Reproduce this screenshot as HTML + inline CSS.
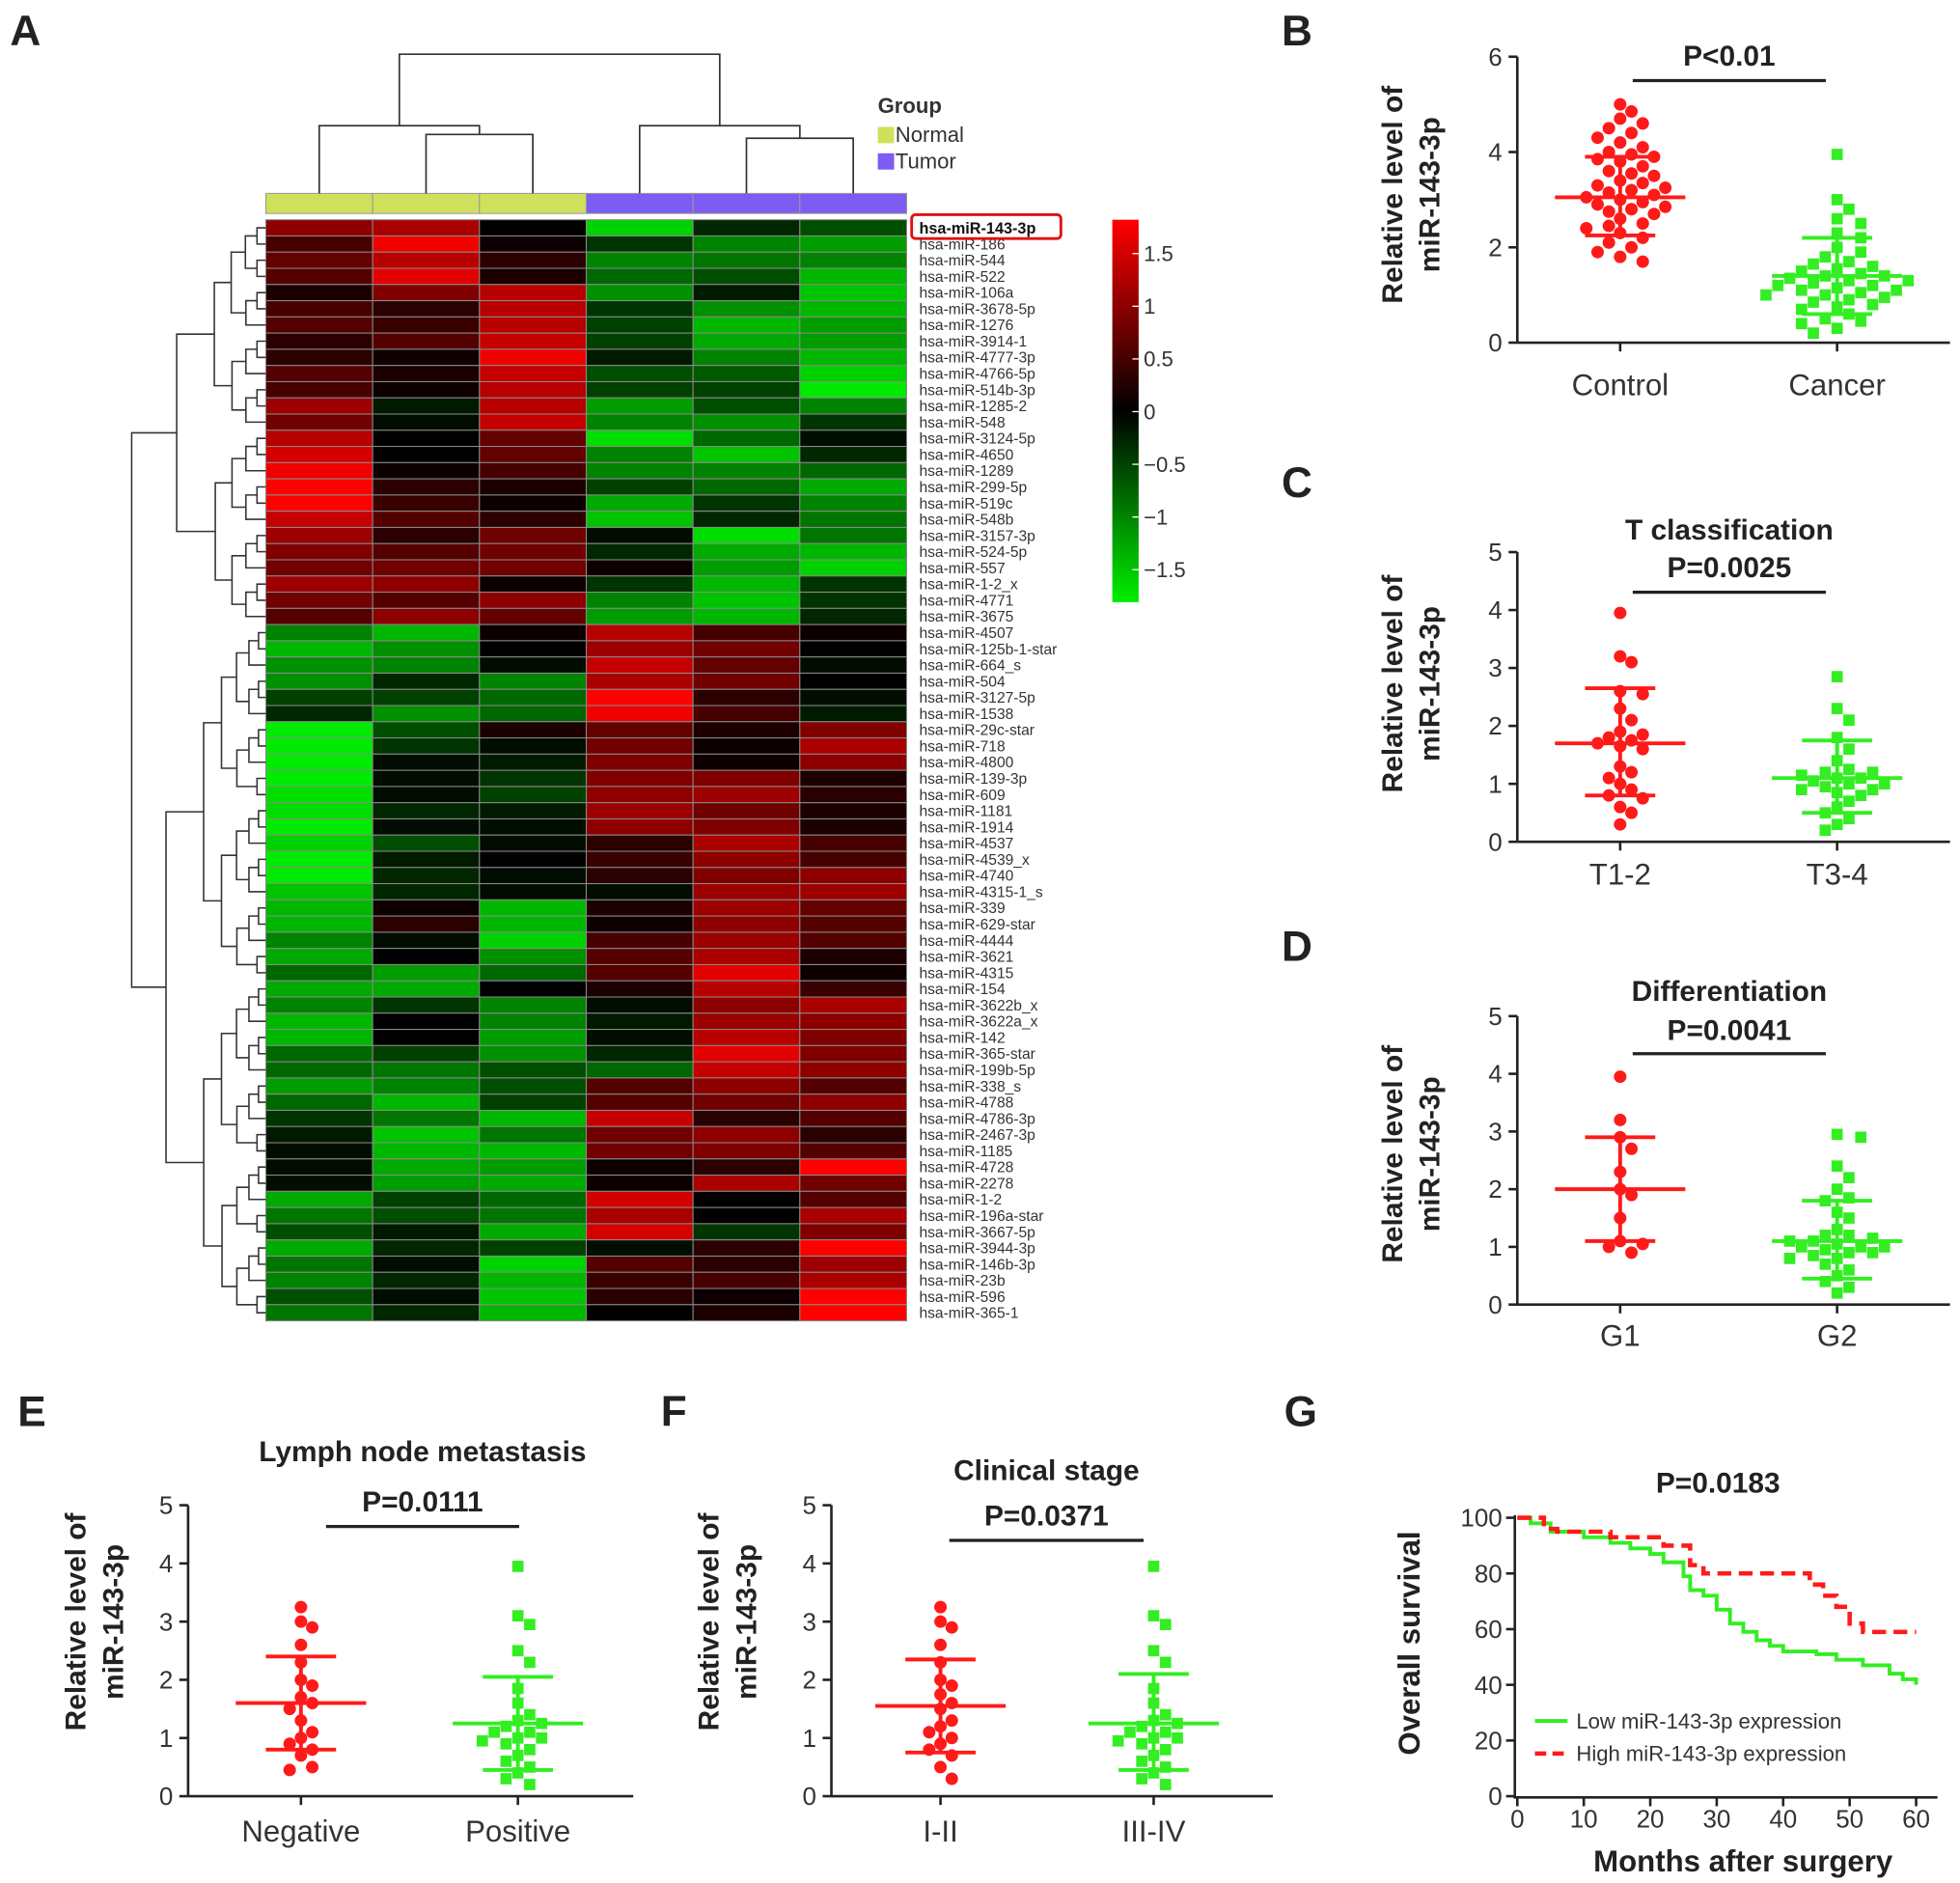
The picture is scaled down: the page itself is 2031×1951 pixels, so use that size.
<!DOCTYPE html>
<html><head><meta charset="utf-8"><style>
html,body{margin:0;padding:0;background:#fff;}
svg{display:block;font-family:"Liberation Sans",Arial,sans-serif;}
</style></head><body>
<svg id="fig" width="2031" height="1951" viewBox="0 0 1563 1501" xmlns="http://www.w3.org/2000/svg"></svg>
<script>
// ---------------- DATA ----------------
const heatRows = ["hsa-miR-143-3p","hsa-miR-186","hsa-miR-544","hsa-miR-522","hsa-miR-106a","hsa-miR-3678-5p","hsa-miR-1276","hsa-miR-3914-1","hsa-miR-4777-3p","hsa-miR-4766-5p","hsa-miR-514b-3p","hsa-miR-1285-2","hsa-miR-548","hsa-miR-3124-5p","hsa-miR-4650","hsa-miR-1289","hsa-miR-299-5p","hsa-miR-519c","hsa-miR-548b","hsa-miR-3157-3p","hsa-miR-524-5p","hsa-miR-557","hsa-miR-1-2_x","hsa-miR-4771","hsa-miR-3675","hsa-miR-4507","hsa-miR-125b-1-star","hsa-miR-664_s","hsa-miR-504","hsa-miR-3127-5p","hsa-miR-1538","hsa-miR-29c-star","hsa-miR-718","hsa-miR-4800","hsa-miR-139-3p","hsa-miR-609","hsa-miR-1181","hsa-miR-1914","hsa-miR-4537","hsa-miR-4539_x","hsa-miR-4740","hsa-miR-4315-1_s","hsa-miR-339","hsa-miR-629-star","hsa-miR-4444","hsa-miR-3621","hsa-miR-4315","hsa-miR-154","hsa-miR-3622b_x","hsa-miR-3622a_x","hsa-miR-142","hsa-miR-365-star","hsa-miR-199b-5p","hsa-miR-338_s","hsa-miR-4788","hsa-miR-4786-3p","hsa-miR-2467-3p","hsa-miR-1185","hsa-miR-4728","hsa-miR-2278","hsa-miR-1-2","hsa-miR-196a-star","hsa-miR-3667-5p","hsa-miR-3944-3p","hsa-miR-146b-3p","hsa-miR-23b","hsa-miR-596","hsa-miR-365-1"];
const heatGroups = ["Normal","Normal","Normal","Tumor","Tumor","Tumor"];
const heatValues = [
[1.0,1.2,0,-1.6,-0.3,-0.6],[0.5,1.7,0.1,-0.4,-1.0,-1.2],[0.7,1.3,0.3,-1.0,-0.9,-1.0],[0.6,1.6,0.2,-0.8,-0.6,-1.4],
[0.2,0.9,1.3,-1.1,-0.2,-1.5],[0.5,0.3,1.3,-0.4,-1.1,-1.4],[0.6,0.4,1.3,-0.5,-1.4,-1.2],[0.3,0.6,1.4,-0.5,-1.3,-1.2],
[0.3,0.1,1.7,-0.2,-1.0,-1.4],[0.6,0.2,1.4,-0.6,-0.7,-1.6],[0.5,0.1,1.3,-0.5,-0.5,-1.8],[1.1,-0.2,1.3,-1.2,-0.6,-1.0],
[0.8,-0.1,1.4,-1.0,-1.1,-0.4],[1.3,0.0,0.7,-1.7,-0.8,-0.1],[1.5,0.0,0.7,-1.0,-1.5,-0.3],[1.7,0.1,0.5,-1.0,-1.0,-0.8],
[1.8,0.3,0.2,-0.5,-0.8,-1.3],[1.8,0.4,0.1,-1.3,-0.4,-1.0],[1.4,0.6,0.3,-1.5,-0.3,-0.9],[1.1,0.3,0.8,-0.1,-1.7,-0.9],
[0.9,0.6,0.8,-0.3,-1.3,-1.4],[0.8,0.8,0.8,0.1,-1.2,-1.6],[1.1,1.0,0.1,-0.4,-1.4,-0.4],[0.8,0.6,1.0,-1.0,-1.5,-0.4],
[0.6,1.0,0.7,-1.2,-1.4,-0.3],[-1.0,-1.4,0.1,1.3,0.5,0.1],[-1.4,-1.1,0.0,1.1,0.8,0.0],[-1.1,-1.0,-0.1,1.4,0.7,-0.1],
[-1.1,-0.3,-1.0,1.2,0.8,0.0],[-0.5,-0.5,-0.8,1.8,0.3,-0.1],[-0.3,-1.1,-0.8,1.7,0.5,-0.2],[-1.8,-0.6,0.2,0.7,0.2,0.9],
[-1.8,-0.4,-0.1,0.8,0.1,1.2],[-1.9,-0.1,-0.2,0.9,0.1,1.0],[-1.8,-0.1,-0.4,0.9,0.9,0.2],[-1.7,-0.1,-0.5,1.0,1.1,0.3],
[-1.7,-0.3,-0.2,1.1,0.8,0.2],[-1.9,-0.1,-0.1,1.0,0.9,0.2],[-1.6,-0.6,-0.1,0.3,1.2,0.5],[-1.9,-0.2,0.0,0.4,1.0,0.5],
[-1.9,-0.3,-0.1,0.3,0.9,1.0],[-1.5,-0.3,-0.1,-0.1,1.1,1.1],[-1.4,0.1,-1.4,0.2,1.1,0.7],[-1.4,0.3,-1.4,0.1,1.0,0.6],
[-1.0,-0.1,-1.6,0.5,1.1,0.6],[-1.3,0.0,-1.1,0.6,1.2,0.2],[-0.8,-1.2,-0.8,0.6,1.6,0.1],[-1.3,-1.3,0.0,0.2,1.3,0.4],
[-1.0,-0.4,-1.0,-0.1,1.0,1.2],[-1.4,0.0,-1.0,-0.2,1.1,1.0],[-1.4,0.0,-1.2,-0.1,1.3,0.9],[-0.8,-0.5,-1.1,-0.3,1.6,0.9],
[-0.8,-0.9,-0.6,-0.8,1.4,1.0],[-1.2,-1.0,-0.6,0.6,1.0,0.6],[-0.8,-1.4,-0.5,0.6,0.8,1.0],[-0.4,-0.9,-1.4,1.4,0.3,0.6],
[-0.2,-1.5,-0.9,0.8,1.0,0.3],[-0.1,-1.4,-1.4,0.8,0.9,0.6],[-0.1,-1.3,-1.2,0.1,0.3,1.8],[-0.1,-1.2,-1.3,0.1,1.2,0.8],
[-1.3,-0.5,-0.8,1.5,0.0,0.6],[-0.9,-0.6,-0.9,1.2,0.0,1.2],[-0.6,-0.2,-1.3,1.5,-0.4,0.9],[-1.3,-0.3,-0.5,-0.1,0.3,1.8],
[-0.9,-0.1,-1.6,0.6,0.3,1.1],[-1.0,-0.3,-1.4,0.4,0.5,1.2],[-0.6,-0.1,-1.5,0.3,0.1,1.8],[-0.9,-0.3,-1.4,0.0,0.2,1.8]];
const colorbarTicks = [1.5,1,0.5,0,-0.5,-1,-1.5];

const bCats = ["Control","Cancer"];
const bControl = [5.0,4.85,4.7,4.6,4.5,4.4,4.3,4.2,4.1,4.0,3.95,3.9,3.85,3.8,3.7,3.6,3.55,3.5,3.4,3.35,3.3,3.25,3.2,3.15,3.1,3.05,3.0,2.95,2.9,2.85,2.8,2.75,2.7,2.6,2.5,2.45,2.4,2.3,2.2,2.1,2.0,1.9,1.8,1.7];
const bCancer = [3.95,3.0,2.8,2.6,2.5,2.3,2.2,2.0,1.9,1.8,1.7,1.65,1.6,1.55,1.5,1.45,1.4,1.35,1.3,1.25,1.2,1.15,1.1,1.05,1.0,0.95,0.9,0.85,0.8,0.75,0.7,0.6,0.5,0.45,0.4,0.3,0.2,1.4,1.3,1.2,1.1,1.0];
const bStats = [[3.05,2.25,3.9],[1.4,0.6,2.2]];
const bTicks = [0,2,4,6];

const cCats = ["T1-2","T3-4"];
const cLow = [3.95,3.2,3.1,2.6,2.55,2.3,2.1,1.9,1.85,1.8,1.75,1.7,1.65,1.6,1.3,1.2,1.1,1.0,0.9,0.8,0.75,0.6,0.5,0.3];
const cHigh = [2.85,2.3,2.1,1.8,1.6,1.4,1.25,1.2,1.1,1.1,1.05,1.0,0.95,0.9,0.85,0.8,0.7,0.6,0.5,0.4,0.3,0.2,1.15,1.0,0.9,1.2];
const cStats = [[1.7,0.8,2.65],[1.1,0.5,1.75]];

const dCats = ["G1","G2"];
const dG1 = [3.95,3.2,2.9,2.7,2.3,2.0,1.9,1.5,1.1,1.05,1.0,0.9];
const dG2 = [2.95,2.9,2.4,2.2,2.0,1.85,1.8,1.6,1.5,1.3,1.2,1.15,1.1,1.05,1.0,1.0,0.95,0.9,0.85,0.8,0.7,0.6,0.5,0.4,0.3,0.2,1.1,1.0,0.9,0.8,1.2];
const dStats = [[2.0,1.1,2.9],[1.1,0.45,1.8]];

const eCats = ["Negative","Positive"];
const eNeg = [3.25,3.0,2.9,2.6,2.3,2.0,1.9,1.7,1.6,1.5,1.3,1.1,1.0,0.9,0.8,0.7,0.5,0.45];
const ePos = [3.95,3.1,2.95,2.5,2.3,1.85,1.6,1.4,1.3,1.25,1.2,1.1,1.0,0.95,0.9,0.8,0.7,0.6,0.5,0.4,0.3,0.2,1.1,1.0];
const eStats = [[1.6,0.8,2.4],[1.25,0.45,2.05]];

const fCats = ["I-II","III-IV"];
const fEarly = [3.25,3.0,2.9,2.6,2.3,2.0,1.9,1.75,1.6,1.5,1.3,1.2,1.1,1.0,0.9,0.8,0.7,0.5,0.3];
const fLate = [3.95,3.1,2.95,2.5,2.3,1.85,1.6,1.4,1.3,1.25,1.2,1.1,1.0,0.95,0.9,0.8,0.7,0.6,0.5,0.4,0.3,0.2,1.1,1.0];
const fStats = [[1.55,0.75,2.35],[1.25,0.45,2.1]];
const fiveTicks = [0,1,2,3,4,5];

const gLowT = [0,2,5,10,14,17,20,22,25,26,28,30,32,34,36,38,40,45,48,52,56,58,60];
const gLowS = [100,98,95,93,91,89,87,84,79,74,72,67,62,59,56,54,52,51,49,47,44,42,40];
const gHighT = [0,4,6,14,18,22,26,28,42,44,46,48,50,52,60];
const gHighS = [100,96,95,93,93,90,83,80,80,76,72,68,62,59,59];
const gXTicks = [0,10,20,30,40,50,60];
const gYTicks = [0,20,40,60,80,100];

// ---------------- HELPERS ----------------
const NS = "http://www.w3.org/2000/svg";
const svg = document.getElementById('fig');
function mk(tag, attrs, parent) {
  const e = document.createElementNS(NS, tag);
  for (const k in attrs) e.setAttribute(k, attrs[k]);
  (parent || svg).appendChild(e);
  return e;
}
function txt(s, attrs, parent) { const e = mk('text', attrs, parent); e.textContent = s; return e; }

// panel letters
[["A",8,36],["B",1022,36],["C",1022,396],["D",1022,766],["E",14,1137],["F",527,1137],["G",1024,1137]].forEach(p => {
  const t = txt(p[0], {x:p[1], y:p[2], 'font-size':34, 'font-weight':'bold', fill:'#222'});
  
  
});

// ---------------- HEATMAP ----------------
const hx0 = 212, hx1 = 723, hy0 = 175, hy1 = 1053;
const cw = (hx1 - hx0) / 6, rh = (hy1 - hy0) / heatRows.length;
function heatColor(v) {
  const a = Math.min(1, Math.abs(v) / 1.8);
  return v >= 0 ? `rgb(${Math.round(a*255)},0,0)` : `rgb(0,${Math.round(a*235)},0)`;
}
const hg = mk('g', {});


heatValues.forEach((row, i) => {
  row.forEach((v, j) => {
    const r = mk('rect', {x:hx0 + j*cw, y:hy0 + i*rh, width:cw, height:rh, fill:heatColor(v), stroke:'#8a8a8a', 'stroke-width':0.8}, hg);
    
    
  });
  const l = txt(heatRows[i], {x:733, y:hy0 + i*rh + rh/2 + 4.2, 'font-size':12, fill:'#333'});
  
  
});
const hl = mk('rect', {x:727, y:171, width:119, height:19, rx:3, fill:'#fff', stroke:'#e01010', 'stroke-width':2.2});


const hlt = txt(heatRows[0], {x:733, y:186, 'font-size':12.5, 'font-weight':'bold', fill:'#111'});



// group bar
heatGroups.forEach((g, j) => {
  const r = mk('rect', {x:hx0 + j*cw, y:154, width:cw, height:16, fill: g === 'Normal' ? '#cfe05c' : '#7c5cf2', stroke:'#999', 'stroke-width':0.8});
  
  
});
const gt = txt('Group', {x:700, y:90, 'font-size':17, 'font-weight':'bold', fill:'#333'});


[["Normal",'#cfe05c',101],["Tumor",'#7c5cf2',122]].forEach(g => {
  const s = mk('rect', {x:700, y:g[2], width:13, height:13, fill:g[1]});
  
  
  const t = txt(g[0], {x:714, y:g[2] + 12, 'font-size':17, fill:'#333'});
  
  
});

// column dendrogram
const cc = j => hx0 + cw*(j + 0.5);
function cpath(d) { const p = mk('path', {d:d, fill:'none', stroke:'#333', 'stroke-width':1.3});   }
const n12 = (cc(1)+cc(2))/2, nL = (cc(0)+n12)/2, n45 = (cc(4)+cc(5))/2, nR = (cc(3)+n45)/2;
cpath(`M${cc(1)},154V107H${cc(2)}V154 M${cc(0)},154V100H${n12}V107 M${cc(4)},154V110H${cc(5)}V154 M${cc(3)},154V100H${n45}V110 M${nL},100V43H${nR}V100`);

// row dendrogram (recursive)
function rowTree(a, b, depth) {
  if (a === b) return {y: hy0 + rh*(a+0.5), x: hx0};
  let m;
  if (depth === 0) m = 24; else m = Math.floor((a+b)/2);
  const L = rowTree(a, m, depth+1), R = rowTree(m+1, b, depth+1);
  const size = b - a + 1;
  const x = depth === 0 ? 105 : Math.min(L.x, R.x) - (depth === 1 ? 30 : Math.max(4, 12 - depth*1.2) + Math.log(size)*1.5);
  const p = mk('path', {d:`M${L.x},${L.y}H${x}V${R.y}H${R.x}`, fill:'none', stroke:'#333', 'stroke-width':1.2});
  
  
  return {x: x, y: (L.y + R.y)/2};
}
rowTree(0, heatRows.length - 1, 0);

// colorbar
const cbY = v => 328 - v*84;
const defs = mk('defs', {});
const lg = mk('linearGradient', {id:'cbg', x1:0, y1:0, x2:0, y2:1}, defs);
[[0,'#ff0000'],[0.5,'#000000'],[1,'#00ee00']].forEach(s => mk('stop', {offset:s[0], 'stop-color':s[1]}, lg));
const cb = mk('rect', {x:887, y:175, width:21, height:305, fill:'url(#cbg)'});


colorbarTicks.forEach(v => {
  const tk = mk('line', {x1:903, x2:908, y1:cbY(v), y2:cbY(v), stroke:'#fff', 'stroke-width':1});
  
  
  const t = txt(String(v).replace('-', '−'), {x:912, y:cbY(v) + 6, 'font-size':17, fill:'#333'});
  
  
});

// ---------------- SCATTER PANELS ----------------
function yTitle(cx, cy, name) {
  const g = mk('g', {transform:`translate(${cx},${cy}) rotate(-90)`});
  
  
  txt('Relative level of', {x:0, y:0, 'text-anchor':'middle', 'font-size':23, 'font-weight':'bold', fill:'#222'}, g);
  txt('miR-143-3p', {x:0, y:30, 'text-anchor':'middle', 'font-size':23, 'font-weight':'bold', fill:'#222'}, g);
}
function swarm(vals, cx, ys, size) {
  const placed = [];
  const order = vals.map((v,i)=>i).sort((a,b)=>vals[b]-vals[a]);
  order.forEach(i => {
    const y = ys(vals[i]);
    for (let k = 0; k < 30; k++) {
      const off = k === 0 ? 0 : (k % 2 ? 1 : -1) * Math.ceil(k/2) * size * 0.9;
      const x = cx + off;
      if (!placed.some(p => Math.hypot(p.x - x, p.y - y) < size)) { placed.push({x, y}); break; }
    }
  });
  return placed;
}
function scatterPanel(cfg) {
  const {ax0, ax1, y0, yTop, maxV, ticks, cats, series, stats, cxs, title, titleY, pText, pY, lineY, lineX, labY, ytx, yty, name} = cfg;
  const ys = v => y0 - (y0 - yTop) * v / maxV;
  const g = mk('g', {});
  
  
  const ya = mk('line', {x1:ax0, x2:ax0, y1:y0, y2:ys(maxV), stroke:'#222', 'stroke-width':2}, g);
  
  
  const xa = mk('line', {x1:ax0, x2:ax1, y1:y0, y2:y0, stroke:'#222', 'stroke-width':2}, g);
  
  
  ticks.forEach(t => {
    const tk = mk('line', {x1:ax0-7, x2:ax0, y1:ys(t), y2:ys(t), stroke:'#222', 'stroke-width':2}, g);
    
    
    const tl = txt(String(t), {x:ax0-12, y:ys(t)+7, 'text-anchor':'end', 'font-size':20, fill:'#333'}, g);
    
    
  });
  cats.forEach((c, i) => {
    const tk = mk('line', {x1:cxs[i], x2:cxs[i], y1:y0, y2:y0+7, stroke:'#222', 'stroke-width':2}, g);
    
    
    const tl = txt(c, {x:cxs[i], y:labY, 'text-anchor':'middle', 'font-size':24, fill:'#333'}, g);
    
    
  });
  series.forEach((vals, i) => {
    const isRed = i === 0;
    const col = isRed ? '#ff1a1a' : '#33ee22';
    const pts = swarm(vals, cxs[i], ys, isRed ? 10 : 10.5);
    pts.forEach(p => {
      let m;
      if (isRed) m = mk('circle', {cx:p.x, cy:p.y, r:5, fill:col}, g);
      else m = mk('rect', {x:p.x-4.5, y:p.y-4.5, width:9, height:9, fill:col}, g);
      
      
    });
    const [mean, lo, hi] = stats[i];
    const ec = mk('path', {d:`M${cxs[i]-52},${ys(mean)}H${cxs[i]+52} M${cxs[i]},${ys(lo)}V${ys(hi)} M${cxs[i]-28},${ys(lo)}H${cxs[i]+28} M${cxs[i]-28},${ys(hi)}H${cxs[i]+28}`, fill:'none', stroke:col, 'stroke-width':3}, g);
    
    
  });
  if (title) {
    const tt = txt(title, {x:(lineX[0]+lineX[1])/2, y:titleY, 'text-anchor':'middle', 'font-size':23, 'font-weight':'bold', fill:'#222'}, g);
    
    
  }
  const pt = txt(pText, {x:(lineX[0]+lineX[1])/2, y:pY, 'text-anchor':'middle', 'font-size':23, 'font-weight':'bold', fill:'#222'}, g);
  
  
  const pl = mk('line', {x1:lineX[0], x2:lineX[1], y1:lineY, y2:lineY, stroke:'#222', 'stroke-width':2.5}, g);
  
  
  yTitle(ytx, yty, 'y-axis-title');
}

scatterPanel({name:'panel-b', ax0:1210, ax1:1555, y0:273, yTop:45, maxV:6, ticks:bTicks, cats:bCats, series:[bControl,bCancer], stats:bStats, cxs:[1292,1465], pText:'P<0.01', pY:52, lineY:64, lineX:[1302,1456], labY:315, ytx:1118, yty:155});
scatterPanel({name:'panel-c', ax0:1210, ax1:1555, y0:671, yTop:440, maxV:5, ticks:fiveTicks, cats:cCats, series:[cLow,cHigh], stats:cStats, cxs:[1292,1465], title:'T classification', titleY:430, pText:'P=0.0025', pY:460, lineY:472, lineX:[1302,1456], labY:705, ytx:1118, yty:545});
scatterPanel({name:'panel-d', ax0:1210, ax1:1555, y0:1040, yTop:810, maxV:5, ticks:fiveTicks, cats:dCats, series:[dG1,dG2], stats:dStats, cxs:[1292,1465], title:'Differentiation', titleY:798, pText:'P=0.0041', pY:829, lineY:840, lineX:[1302,1456], labY:1073, ytx:1118, yty:920});
scatterPanel({name:'panel-e', ax0:150, ax1:505, y0:1432, yTop:1200, maxV:5, ticks:fiveTicks, cats:eCats, series:[eNeg,ePos], stats:eStats, cxs:[240,413], title:'Lymph node metastasis', titleY:1165, pText:'P=0.0111', pY:1205, lineY:1217, lineX:[260,414], labY:1468, ytx:68, yty:1293});
scatterPanel({name:'panel-f', ax0:663, ax1:1015, y0:1432, yTop:1200, maxV:5, ticks:fiveTicks, cats:fCats, series:[fEarly,fLate], stats:fStats, cxs:[750,920], title:'Clinical stage', titleY:1180, pText:'P=0.0371', pY:1216, lineY:1228, lineX:[757,912], labY:1468, ytx:573, yty:1293});

// ---------------- SURVIVAL (G) ----------------
(function(){
  const gx = t => 1210 + t * (1528 - 1210) / 60;
  const gy = s => 1432 - s * (1432 - 1210) / 100;
  const g = mk('g', {});
  
  
  const ya = mk('line', {x1:1208, x2:1208, y1:1433, y2:gy(100)-2, stroke:'#222', 'stroke-width':2}, g);
  
  
  const xa = mk('line', {x1:1207, x2:1545, y1:1433, y2:1433, stroke:'#222', 'stroke-width':2}, g);
  
  
  gYTicks.forEach(v => {
    const tk = mk('line', {x1:1201, x2:1208, y1:gy(v), y2:gy(v), stroke:'#222', 'stroke-width':2}, g);
    
    
    const tl = txt(String(v), {x:1198, y:gy(v)+7, 'text-anchor':'end', 'font-size':20, fill:'#333'}, g);
    
    
  });
  gXTicks.forEach(v => {
    const tk = mk('line', {x1:gx(v), x2:gx(v), y1:1433, y2:1440, stroke:'#222', 'stroke-width':2}, g);
    
    
    const tl = txt(String(v), {x:gx(v), y:1457, 'text-anchor':'middle', 'font-size':20, fill:'#333'}, g);
    
    
  });
  function stepPath(T, S) {
    let d = `M${gx(T[0])},${gy(S[0])}`;
    for (let i = 1; i < T.length; i++) d += `H${gx(T[i])}V${gy(S[i])}`;
    return d;
  }
  const low = mk('path', {d:stepPath(gLowT, gLowS), fill:'none', stroke:'#33ee22', 'stroke-width':3}, g);
  
  
  const high = mk('path', {d:stepPath(gHighT, gHighS), fill:'none', stroke:'#ff1a1a', 'stroke-width':3.5, 'stroke-dasharray':'11 6'}, g);
  
  
  const l1 = mk('line', {x1:1224, x2:1250, y1:1372, y2:1372, stroke:'#33ee22', 'stroke-width':3}, g);
  
  
  const t1 = txt('Low miR-143-3p expression', {x:1257, y:1378, 'font-size':17, fill:'#333'}, g);
  
  
  const l2 = mk('line', {x1:1224, x2:1250, y1:1398, y2:1398, stroke:'#ff1a1a', 'stroke-width':3.5, 'stroke-dasharray':'9 5'}, g);
  
  
  const t2 = txt('High miR-143-3p expression', {x:1257, y:1404, 'font-size':17, fill:'#333'}, g);
  
  
  const pv = txt('P=0.0183', {x:1370, y:1190, 'text-anchor':'middle', 'font-size':23, 'font-weight':'bold', fill:'#222'}, g);
  
  
  const xt = txt('Months after surgery', {x:1390, y:1492, 'text-anchor':'middle', 'font-size':24, 'font-weight':'bold', fill:'#222'}, g);
  
  
  const yt = txt('Overall survival', {x:0, y:0, 'text-anchor':'middle', 'font-size':24, 'font-weight':'bold', fill:'#222', transform:'translate(1132,1310) rotate(-90)'}, g);
  
  
})();
</script>
</body></html>
